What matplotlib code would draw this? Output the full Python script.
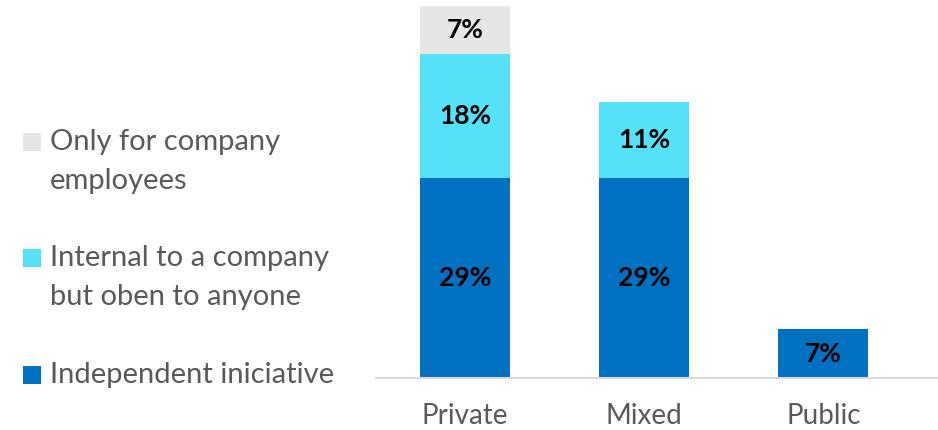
import numpy as np
import matplotlib.pyplot as plt
from matplotlib.patches import Rectangle

categories = ["Private", "Mixed", "Public"]
independent = [29, 29, 7]
internal = [18, 11, 0]
employees_only = [7, 0, 0]

series_names = ["Independent iniciative",
                "Internal to a company\nbut oben to anyone",
                "Only for company\nemployees"]
colors = ["#0070C0", "#55E2F8", "#E6E6E6"]

plt.rcParams["font.family"] = ["Lato", "DejaVu Sans"]

fig = plt.figure(figsize=(9.38, 4.30), dpi=100)
ax = fig.add_axes([376 / 938, 52.3 / 430, 562 / 938, 377.7 / 430])

x = np.arange(len(categories))
bottom = np.zeros(len(categories))
for vals, col in zip([independent, internal, employees_only], colors):
    vals = np.array(vals, dtype=float)
    bars = ax.bar(x, vals, width=0.503, bottom=bottom, color=col, edgecolor="none")
    for b, v, btm in zip(bars, vals, bottom):
        if v > 0:
            ax.text(b.get_x() + b.get_width() / 2, btm + v / 2, f"{int(v)}%",
                    ha="center", va="center", fontsize=19, fontweight="bold", color="black")
    bottom += vals

ax.set_xlim(-0.497, 2.64)
ax.set_ylim(0, 54.8)
ax.set_xticks(x)
ax.set_xticklabels(categories, fontsize=20, color="#595959")
ax.tick_params(axis="x", length=0, pad=18)
ax.set_yticks([])
for s in ["top", "right", "left"]:
    ax.spines[s].set_visible(False)
ax.spines["bottom"].set_color("#D9D9D9")
ax.spines["bottom"].set_linewidth(1.5)

# legend drawn by hand, top entry first
legend_rows = [(series_names[2], colors[2], 142),
               (series_names[1], colors[1], 258),
               (series_names[0], colors[0], 375)]
for label, col, ypx in legend_rows:
    fig.patches.append(Rectangle((23 / 938, 1 - (ypx + 9) / 430), 18 / 938, 18 / 430,
                                 transform=fig.transFigure, facecolor=col, edgecolor="none"))
    fig.text(50 / 938, 1 - ypx / 430, label.split("\n")[0], fontsize=21, color="#595959",
             ha="left", va="center")
    if "\n" in label:
        fig.text(50 / 938, 1 - (ypx + 39) / 430, label.split("\n")[1], fontsize=21,
                 color="#595959", ha="left", va="center")

fig.savefig("out.png", dpi=100)
